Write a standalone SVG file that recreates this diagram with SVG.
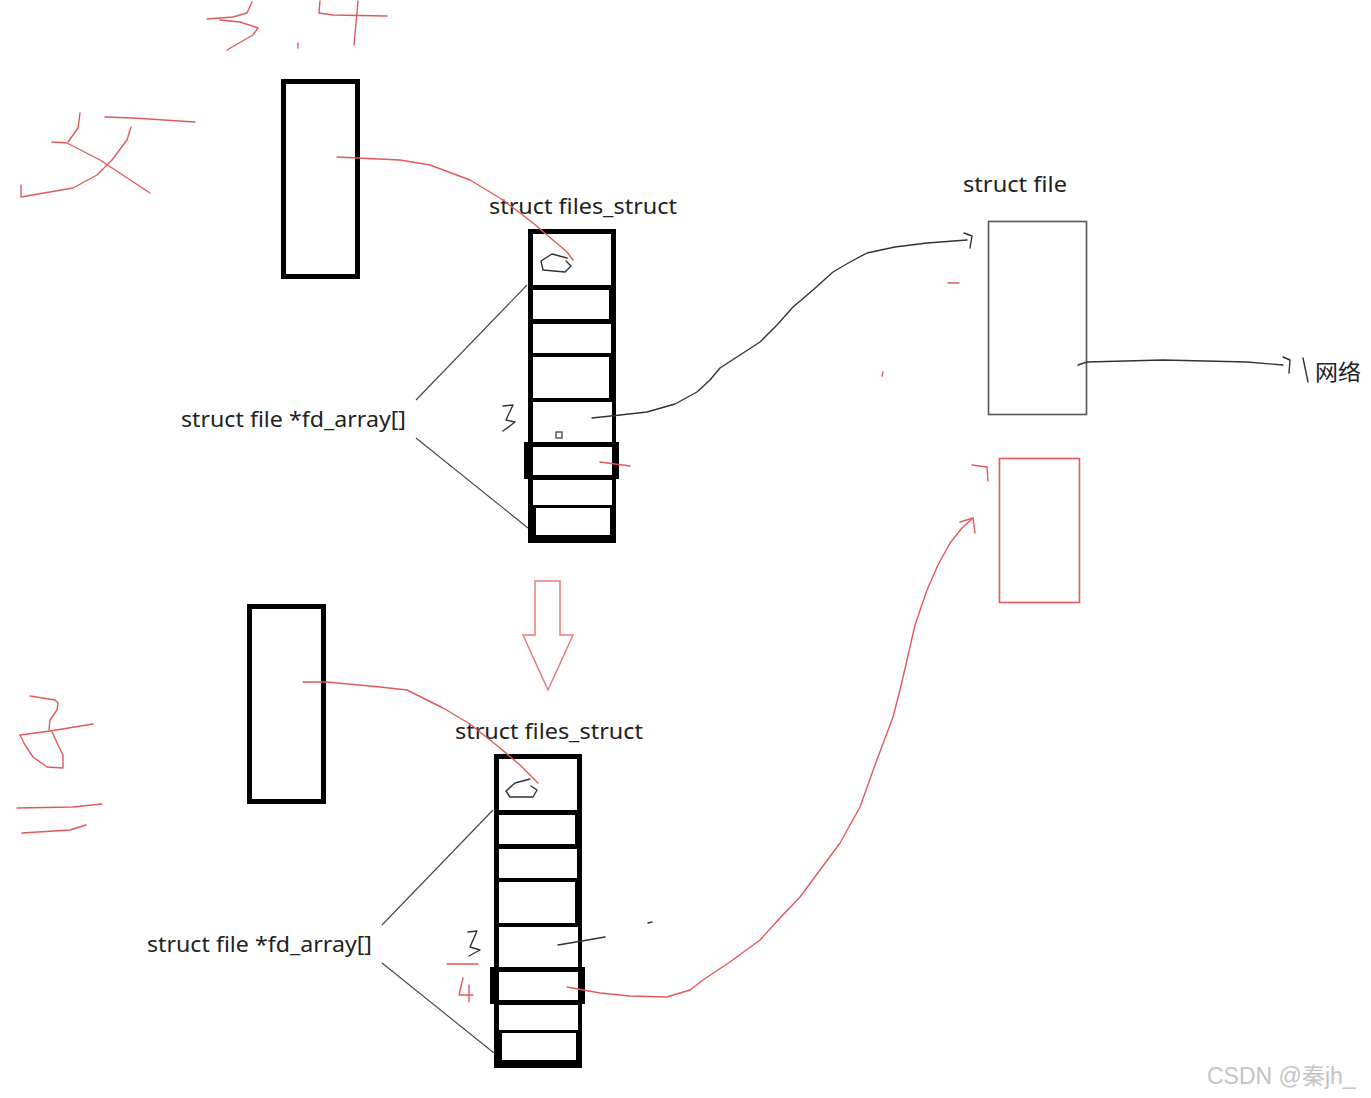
<svg xmlns="http://www.w3.org/2000/svg" xmlns:xlink="http://www.w3.org/1999/xlink" width="1371" height="1098" viewBox="0 0 1371 1098">
<style>
.lbl{font-family:"Noto Sans","Noto Sans CJK SC",sans-serif;font-size:22px;fill:#222}
.red{fill:none;stroke:#e05a5a;stroke-width:1.4;stroke-linecap:round;stroke-linejoin:round}
.ink{fill:none;stroke:#333;stroke-width:1.4;stroke-linecap:round;stroke-linejoin:round}
.thin{fill:none;stroke:#444;stroke-width:1.1}
.box{fill:none;stroke:#000;stroke-width:5}
.wm{font-family:"Liberation Sans","Noto Sans CJK SC",sans-serif;font-size:23px;fill:#c4c4c4}
</style>
<defs>
<g id="arr">
<path fill="#000" d="M528,229 H616 V543 H528Z M524,442 H619 V479 H524Z"/>
<g fill="#fff">
<rect x="533" y="234" width="78" height="51"/>
<rect x="533" y="290" width="76" height="29"/>
<rect x="533" y="324" width="78" height="29"/>
<rect x="533" y="357" width="76" height="41"/>
<rect x="533" y="402" width="79" height="40"/>
<rect x="533" y="447" width="79" height="28"/>
<rect x="533" y="480" width="79" height="25"/>
<rect x="536" y="508" width="74" height="27"/>
</g>
</g>
</defs>
<rect width="1371" height="1098" fill="#fff"/>

<g id="handwriting">
<path class="red" d="M207,19 L233,17 L247,13 L252,2"/>
<path class="red" d="M220,20 L240,22 L258,28 L253,35 L227,50"/>
<path class="red" d="M298,43 L298,48"/>
<path class="red" d="M320,1 L319,13 L333,15 L387,16"/>
<path class="red" d="M358,1 L354,45"/>
<path class="red" d="M80,113 L78,128 L68,142"/>
<path class="red" d="M52,142 L67,143 L100,160 L150,193"/>
<path class="red" d="M105,117 L133,118 L195,122"/>
<path class="red" d="M131,127 L127,140 L112,160 L97,175 L73,188 L21,197 L21,185"/>
<path class="red" d="M30,696 L55,700 L58,703 L57,710 L50,720 L49,730"/>
<path class="red" d="M20,735 L50,731 L93,724"/>
<path class="red" d="M20,735 L25,745 L33,757 L47,767 L63,768 L63,755 L59,747 L52,732"/>
<path class="red" d="M17,808 L73,807 L102,804"/>
<path class="red" d="M22,833 L70,830 L86,825"/>
</g>

<g id="parent-task">
<rect class="box" x="283.5" y="81.5" width="74" height="195"/>
</g>
<g id="child-task">
<rect class="box" x="249.5" y="606.5" width="74" height="195"/>
</g>

<g id="files-struct-parent">
<text class="lbl" x="489" y="214" textLength="188" lengthAdjust="spacingAndGlyphs">struct files_struct</text>
<use href="#arr" xlink:href="#arr"/>
<path class="ink" d="M567,258 L552,254 L541,261 L543,270 L565,272 L571,266 L566,261"/>
<rect x="556" y="432" width="6" height="6" fill="none" stroke="#333" stroke-width="1.2"/>
<path class="ink" d="M503,406 L513,405 L506,420 L515,422 L503,431"/>
</g>

<g id="files-struct-child">
<text class="lbl" x="455" y="739" textLength="188" lengthAdjust="spacingAndGlyphs">struct files_struct</text>
<use href="#arr" xlink:href="#arr" transform="translate(-34,525)"/>
<path class="ink" d="M530,779 L515,783 L506,791 L510,797 L533,797 L537,790 L531,786"/>
<path class="ink" d="M468,932 L477,931 L470,947 L480,950 L469,956"/>
<path class="red" d="M447,964 L478,964"/>
<path class="red" d="M463,978 L459,995 L473,995 M469,985 L469,1002"/>
</g>

<g id="fd-array-parent">
<text class="lbl" x="181" y="427" textLength="225" lengthAdjust="spacingAndGlyphs">struct file *fd_array[]</text>
</g>
<g id="fd-array-child">
<text class="lbl" x="147" y="952" textLength="225" lengthAdjust="spacingAndGlyphs">struct file *fd_array[]</text>
</g>

<g id="struct-file">
<text class="lbl" x="963" y="192" textLength="104" lengthAdjust="spacingAndGlyphs">struct file</text>
<rect x="988.5" y="221.5" width="98" height="193" fill="none" stroke="#555" stroke-width="1.6"/>
</g>

<g id="new-file">
<rect x="999.5" y="458.5" width="80" height="144" fill="none" stroke="#e05a5a" stroke-width="1.6"/>
</g>

<g id="network">
<text class="lbl" x="1315" y="380" textLength="46" lengthAdjust="spacingAndGlyphs">网络</text>
</g>

<g id="down-arrow">
<polygon points="535,581 560,581 560,635 573,635 548,690 523,635 535,635" fill="none" stroke="#ea7b7b" stroke-width="1.5" stroke-linejoin="miter"/>
</g>

<g id="connectors">
<path class="thin" d="M416,400 L527,285"/>
<path class="thin" d="M416,438 L528,528"/>
<path class="thin" d="M382,925 L493,810"/>
<path class="thin" d="M382,963 L494,1053"/>
<path class="red" d="M337,157 L400,160 L430,165 L470,180 L503,200 L533,223 L567,252 L573,260"/>
<path class="red" d="M303,682 L327,682 L380,687 L407,690 L443,708 L470,724 L500,748 L520,765 L538,783"/>
<path class="ink" d="M592,418 L620,415 L647,412 L675,404 L697,392 L710,380 L720,368 L740,355 L760,342 L777,325 L793,307 L813,290 L833,272 L850,262 L867,253 L895,247 L927,243 L967,240"/>
<path class="ink" d="M964,233 L972,236 L970,248"/>
<path class="red" d="M600,462 L630,466"/>
<path class="red" d="M948,283 L959,283"/>
<path class="red" d="M883,372 L882,376"/>
<path class="ink" d="M1078,365 L1087,362 L1163,360 L1247,362 L1283,365"/>
<path class="ink" d="M1283,357 L1290,360 L1289,373"/>
<path class="ink" d="M1303,358 L1308,382"/>
<path class="ink" d="M558,945 L582,941 L605,937"/>
<path class="ink" d="M648,923 L652,922"/>
<path class="red" d="M567,987 L600,993 L630,996 L667,997 L690,990 L703,980 L730,962 L760,940 L780,918 L800,897 L820,870 L840,843 L860,807 L875,765 L893,717 L900,690 L907,660 L915,625 L927,590 L938,565 L950,543 L962,528 L973,518"/>
<path class="red" d="M973,518 L960,522 M973,518 L975,533"/>
<path class="red" d="M972,465 L987,467 L988,481"/>
</g>

<text class="wm" x="1207" y="1084">CSDN @秦jh_</text>
</svg>
